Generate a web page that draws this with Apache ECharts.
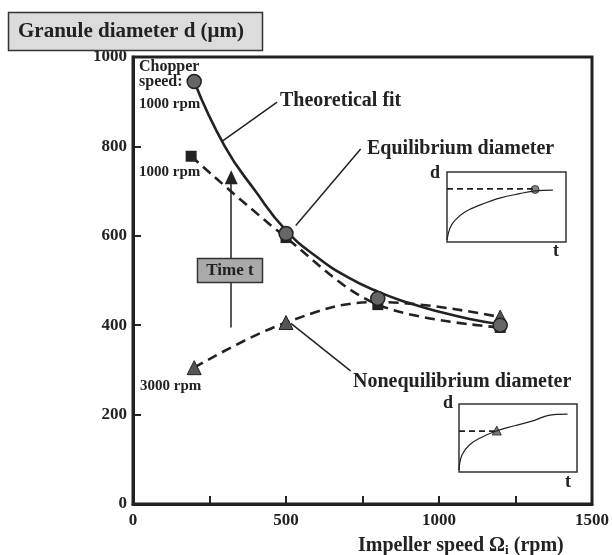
<!DOCTYPE html>
<html><head><meta charset="utf-8">
<script src="https://cdn.jsdelivr.net/npm/echarts@6/dist/echarts.min.js"></script>
<style>html,body{margin:0;padding:0;background:#fff}#c{width:612px;height:555px}</style>
</head><body><div id="c"></div>
<script>
// Data
const fitCurve = [[200,945],[300,800],[400,700],[500,612],[600,553],[700,508],[800,475],[900,450],[1000,430],[1100,414],[1200,402]];
const equilibrium = [[200,945],[500,605],[800,460],[1200,400]];
const chopper1000 = [[190,778],[500,596],[800,446],[1200,395]];
const chopper3000 = [[200,305],[500,406],[800,452],[1200,418]];
const hiddenMarkerX = [800];   // triangle at 800 rpm is hidden under the other markers
const inset1Curve = [[0,3],[2.5,20],[6.7,31],[15,43],[28,53],[45,63],[61,69],[74,73],[89,74]];
const inset1Level = [[0,76],[74,76]];
const inset1Point = [[74,75]];
const inset2Curve = [[0,3],[2.5,25],[9,40],[18,50],[31,60],[47,68],[64,76],[75,83],[92,85]];
const inset2Level = [[0,60],[32,60]];
const inset2Point = [[32,61]];
const yTicks = [0,200,400,600,800,1000];
const xMajor = [0,500,1000,1500];
// Annotation lines in data space
const leaderFit = [[292,812],[471,899]];
const leaderEq = [[532,623],[744,794]];
const leaderNoneq = [[516,404],[711,298]];
const timeArrow = [[321,395],[321,731]];

const F = '"Liberation Serif","Times New Roman",serif';
const chart = echarts.init(document.getElementById('c'), null, {renderer:'canvas'});
const txt = (x,y,t,size,extra) => Object.assign({type:'text', x:x, y:y, z:50,
  style:{text:t, font:'bold '+size+'px '+F, fill:'#222', textVerticalAlign:'middle'}}, extra||{});
const leader = (p) => [{coord:p[0]},{coord:p[1]}];
const tri = chopper3000.map(p => hiddenMarkerX.indexOf(p[0]) >= 0 ? {value:p, symbol:'none'} : {value:p});

chart.setOption({
  animation:false,
  grid:[
    {left:133, right:17, top:57, bottom:51, show:true, borderColor:'#222', borderWidth:3},
    {left:447, top:172, width:119, height:70, show:true, borderColor:'#333', borderWidth:1.5},
    {left:459, top:404, width:118, height:68, show:true, borderColor:'#333', borderWidth:1.5}
  ],
  xAxis:[
    {gridIndex:0, type:'value', min:0, max:1500, interval:250,
     axisLine:{lineStyle:{color:'#222', width:3}},
     axisTick:{inside:true, length:8, lineStyle:{color:'#222', width:2}},
     splitLine:{show:false},
     axisLabel:{margin:8, color:'#222', fontFamily:F, fontWeight:'bold', fontSize:17,
       formatter:v => xMajor.indexOf(v) >= 0 ? String(v) : ''}},
    {gridIndex:1, type:'value', min:0, max:100, show:false},
    {gridIndex:2, type:'value', min:0, max:100, show:false}
  ],
  yAxis:[
    {gridIndex:0, type:'value', min:0, max:1000, interval:200,
     axisLine:{show:true, lineStyle:{color:'#222', width:3}},
     axisTick:{show:true, inside:true, length:8, lineStyle:{color:'#222', width:2}},
     splitLine:{show:false},
     axisLabel:{margin:6, color:'#222', fontFamily:F, fontWeight:'bold', fontSize:17,
       formatter:v => yTicks.indexOf(v) >= 0 ? String(v) : ''}},
    {gridIndex:1, type:'value', min:0, max:100, show:false},
    {gridIndex:2, type:'value', min:0, max:100, show:false}
  ],
  series:[
    {type:'line', name:'1000 rpm', data:chopper1000, smooth:0.35,
     symbol:'rect', symbolSize:11, itemStyle:{color:'#222'},
     lineStyle:{color:'#222', width:2.6, type:[10,6]}, z:3},
    {type:'line', name:'3000 rpm', data:tri, smooth:0.4,
     symbol:'triangle', symbolSize:14, itemStyle:{color:'#555', borderColor:'#222', borderWidth:1},
     lineStyle:{color:'#222', width:2.6, type:[10,6]}, z:3},
    {type:'line', name:'Theoretical fit', data:fitCurve, smooth:0.5, symbol:'none',
     lineStyle:{color:'#222', width:2.6}, z:4,
     markLine:{silent:true, symbol:'none', animation:false,
       lineStyle:{color:'#222', width:1.5, type:'solid'}, label:{show:false},
       data:[leader(leaderFit), leader(leaderEq), leader(leaderNoneq),
         [{coord:timeArrow[0], symbol:'none'},
          {coord:timeArrow[1], symbol:'triangle', symbolSize:[13,14]}]]}},
    {type:'scatter', name:'Equilibrium', data:equilibrium, symbol:'circle', symbolSize:14,
     itemStyle:{color:'#666', borderColor:'#222', borderWidth:1.5, opacity:1}, z:5},
    // insets
    {type:'line', xAxisIndex:1, yAxisIndex:1, data:inset1Curve, smooth:0.4, symbol:'none',
     lineStyle:{color:'#222', width:1.2}},
    {type:'line', xAxisIndex:1, yAxisIndex:1, data:inset1Level, symbol:'none',
     lineStyle:{color:'#222', width:1.8, type:[6,4]}},
    {type:'scatter', xAxisIndex:1, yAxisIndex:1, data:inset1Point, symbol:'circle', symbolSize:8,
     itemStyle:{color:'#666', borderColor:'#222', borderWidth:1}},
    {type:'line', xAxisIndex:2, yAxisIndex:2, data:inset2Curve, smooth:0.4, symbol:'none',
     lineStyle:{color:'#222', width:1.2}},
    {type:'line', xAxisIndex:2, yAxisIndex:2, data:inset2Level, symbol:'none',
     lineStyle:{color:'#222', width:1.8, type:[6,4]}},
    {type:'scatter', xAxisIndex:2, yAxisIndex:2, data:inset2Point, symbol:'triangle', symbolSize:9,
     itemStyle:{color:'#555', borderColor:'#222', borderWidth:1}}
  ],
  graphic:[
    {type:'rect', shape:{x:8.5, y:12.5, width:254, height:38}, z:40,
     style:{fill:'#dcdcdc', stroke:'#333', lineWidth:1.5}},
    {type:'text', x:131, y:32, z:50, style:{text:'Granule diameter d (\u03bcm)', font:'bold 21px '+F,
     fill:'#222', textAlign:'center', textVerticalAlign:'middle'}},
    {type:'rect', shape:{x:197.5, y:258.5, width:65, height:24}, z:40,
     style:{fill:'#aaaaaa', stroke:'#333', lineWidth:1.5}},
    {type:'text', x:230, y:271, z:50, style:{text:'Time t', font:'bold 17px '+F,
     fill:'#222', textAlign:'center', textVerticalAlign:'middle'}},
    txt(139,67,'Chopper',16), txt(139,82,'speed:',16), txt(139,104,'1000 rpm',15),
    txt(139,172,'1000 rpm',15), txt(140,386,'3000 rpm',15),
    txt(280,101,'Theoretical fit',20), txt(367,149,'Equilibrium diameter',20),
    txt(353,382,'Nonequilibrium diameter',20),
    txt(430,173,'d',18), txt(553,251,'t',18), txt(443,403,'d',18), txt(565,482,'t',18),
    {type:'text', x:358, y:546, z:50, style:{
      text:'{a|Impeller speed \u03a9}{s|i}{a| (rpm)}', textVerticalAlign:'middle',
      rich:{a:{font:'bold 20px '+F, fill:'#222'}, s:{font:'bold 13px '+F, fill:'#222', padding:[10,0,0,0]}}}}
  ]
});
</script></body></html>
